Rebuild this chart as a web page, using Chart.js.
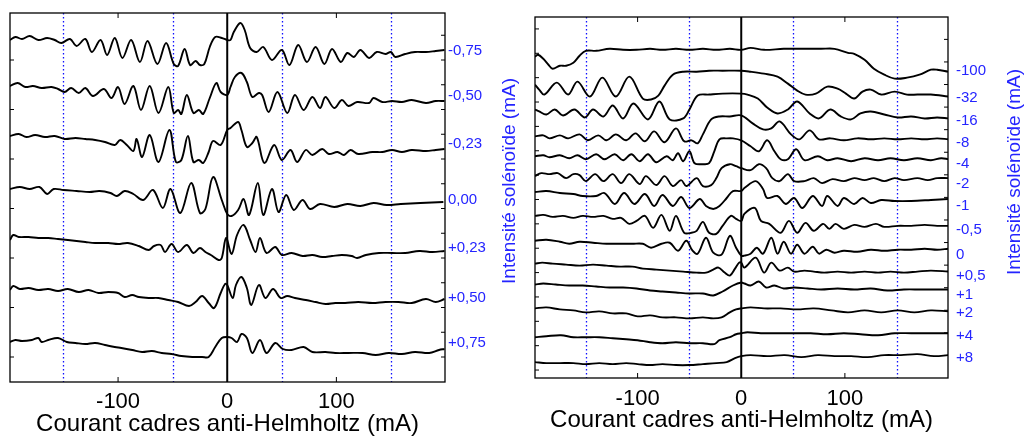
<!DOCTYPE html>
<html>
<head>
<meta charset="utf-8">
<script src="https://cdn.jsdelivr.net/npm/chart.js@4.4.0/dist/chart.umd.min.js"></script>
<style>
  body { margin: 0; background: #fff; }
  canvas { position: absolute; top: 0; }
  #gauche { left: 0; }
  #droite { left: 525px; }
</style>
</head>
<body>
<canvas id="gauche" width="525" height="438"></canvas>
<canvas id="droite" width="499" height="438"></canvas>
<script>
// Courbes : [courant cadres (mA), signal]
// le signal est donné par rapport à la ligne de base de chaque courbe
const xTitle = 'Courant cadres anti-Helmholtz (mA)';
const yTitle = 'Intensité solénoïde (mA)';
const xTicks = [-100, 0, 100];
const dotted = [-150, -50, 50, 150];

// --- panneau de gauche ---
const gaucheLabels = ['-0,75', '-0,50', '-0,23', '0,00', '+0,23', '+0,50', '+0,75'];
const gaucheBase = [332, 282, 232, 180, 131, 83, 33];
const gaucheNiveaux = [331, 286, 238, 182, 134, 84, 39];

const g075m = [[-199,10],[-194,13],[-188,11],[-181,14],[-173,10],[-165,12],[-158,10],[-152,7],[-144,11],[-138,4],[-130,11],[-124,-2],[-116,10],[-110,-5],[-103,12],[-96,-8],[-88,10],[-80,-12],[-73,9],[-64,-14],[-56,7],[-49,-14],[-45,-16],[-39,1],[-34,-15],[-29,-11],[-25,-15],[-21,-14],[-16,3],[-11,13],[-5,12],[0,10],[3,10],[6,18],[12,27],[16,20],[21,2],[27,-2],[33,3],[41,-10],[50,0],[57,-15],[65,5],[73,-12],[81,3],[89,-14],[96,1],[104,-12],[110,-3],[116,-7],[122,0],[130,-8],[137,-2],[145,-4],[150,-2],[154,-7],[163,-4],[172,-2],[182,-2],[191,-1],[199,0]];
const g050m = [[-199,14],[-192,17],[-185,13],[-178,14],[-170,12],[-161,13],[-155,11],[-149,8],[-143,12],[-136,7],[-130,12],[-123,4],[-113,11],[-106,2],[-100,13],[-94,-4],[-86,14],[-79,-10],[-71,14],[-63,-13],[-54,13],[-49,-13],[-45,-10],[-42,-14],[-37,5],[-31,-13],[-26,-10],[-22,-14],[-16,2],[-10,17],[-6,8],[0,5],[3,13],[7,23],[13,27],[18,18],[23,3],[29,7],[32,5],[38,-12],[46,8],[55,-13],[62,5],[70,-10],[78,3],[85,-8],[90,3],[98,-8],[105,0],[111,-6],[119,-2],[130,-3],[134,2],[142,-2],[151,-1],[160,-2],[169,0],[182,-3],[191,-1],[199,-1]];
const g023m = [[-199,14],[-191,16],[-184,13],[-176,15],[-167,13],[-158,14],[-149,11],[-139,12],[-130,11],[-121,10],[-112,8],[-103,5],[-98,10],[-92,5],[-86,-1],[-83,11],[-78,-7],[-71,15],[-63,-12],[-53,20],[-47,-12],[-42,-10],[-36,14],[-31,-12],[-26,-10],[-22,-13],[-17,-2],[-13,9],[-6,5],[0,20],[3,22],[10,28],[13,20],[18,3],[23,7],[27,13],[34,-13],[43,5],[50,-10],[58,0],[64,-12],[72,0],[78,-5],[87,1],[93,-4],[101,-2],[107,-5],[113,0],[120,-4],[133,-2],[142,-2],[151,0],[160,-2],[169,0],[182,-1],[191,0],[199,1]];
const g000 = [[-199,13],[-190,15],[-181,13],[-172,15],[-165,8],[-159,13],[-150,12],[-138,11],[-126,10],[-117,11],[-107,9],[-101,6],[-94,11],[-86,8],[-77,2],[-68,12],[-59,-6],[-52,13],[-43,-11],[-33,19],[-25,-11],[-20,-7],[-13,25],[-5,2],[0,-12],[4,-14],[10,-8],[15,3],[20,-13],[28,19],[33,-13],[41,13],[47,-10],[54,7],[61,-8],[69,2],[76,-7],[85,-2],[98,-5],[110,-2],[122,-4],[134,-1],[146,-3],[159,-2],[177,-1],[198,0]];
const g023p = [[-199,11],[-196,16],[-191,14],[-182,14],[-173,13],[-164,13],[-155,12],[-146,11],[-130,9],[-121,8],[-109,8],[-100,7],[-91,8],[-81,5],[-72,1],[-67,5],[-61,6],[-57,-1],[-51,7],[-45,-1],[-37,6],[-31,-2],[-25,3],[-20,-1],[-15,-4],[-8,-9],[-5,-7],[-1,13],[4,-3],[9,16],[15,26],[21,11],[26,-1],[30,13],[36,-2],[44,4],[50,-4],[59,-2],[69,-5],[78,-4],[87,-6],[96,-5],[105,-4],[114,-5],[119,-7],[127,-4],[139,-2],[151,-2],[163,-2],[176,0],[188,-1],[199,0]];
const g050p = [[-199,9],[-196,13],[-190,10],[-182,11],[-173,9],[-164,10],[-155,8],[-146,10],[-136,7],[-127,9],[-118,6],[-109,7],[-100,6],[-94,2],[-87,4],[-81,2],[-72,1],[-63,1],[-54,-1],[-45,-3],[-35,-7],[-29,-3],[-23,3],[-17,-4],[-12,-9],[-6,6],[-2,15],[0,14],[5,1],[8,14],[13,22],[18,11],[22,-6],[29,14],[35,1],[42,10],[49,1],[55,3],[62,1],[72,-1],[81,-3],[90,-5],[99,-4],[108,-4],[120,-3],[133,-4],[145,-3],[157,-3],[169,-4],[182,0],[191,-3],[199,0]];
const g075p = [[-199,7],[-194,9],[-188,8],[-179,9],[-173,11],[-170,7],[-164,9],[-155,11],[-147,7],[-139,6],[-130,5],[-121,6],[-112,4],[-103,2],[-97,1],[-87,-1],[-78,-3],[-69,-2],[-60,-4],[-51,-5],[-42,-7],[-32,-8],[-23,-8],[-17,-8],[-11,2],[-5,11],[0,12],[4,11],[9,7],[13,15],[18,11],[23,-4],[30,9],[36,-4],[44,6],[51,0],[59,-1],[70,2],[78,-3],[90,-3],[99,-4],[111,-4],[124,-4],[136,-6],[148,-4],[160,-5],[172,-3],[185,-4],[194,-1],[199,0]];
const gaucheCourbes = [g075m, g050m, g023m, g000, g023p, g050p, g075p];

// --- panneau de droite ---
const droiteLabels = ['-100', '-32', '-16', '-8', '-4', '-2', '-1', '-0,5', '0', '+0,5', '+1', '+2', '+4', '+8'];
const droiteBase = [308, 283, 261, 240, 220, 201, 180, 153, 130, 107, 89, 67, 45, 23];
const droiteNiveaux = [309, 282, 259, 236, 215, 195, 173, 149, 124, 103, 84, 65, 42, 20];

const d100m = [[-199,15],[-196,17],[-191,13],[-186,7],[-182,3],[-175,6],[-169,6],[-162,9],[-156,16],[-150,21],[-140,21],[-127,23],[-114,22],[-101,22],[-88,23],[-76,22],[-63,23],[-50,22],[-37,23],[-24,22],[-11,23],[0,22],[9,24],[22,22],[41,23],[61,23],[77,23],[90,23],[103,19],[109,18],[119,12],[128,3],[138,-3],[148,-7],[160,-6],[172,-3],[183,2],[189,2],[200,0]];
const d32m = [[-199,12],[-195,7],[-190,2],[-178,14],[-167,2],[-158,15],[-146,0],[-134,19],[-121,0],[-108,20],[-95,-2],[-87,-3],[-80,1],[-74,11],[-66,22],[-56,25],[-43,25],[-31,26],[-18,26],[0,26],[9,25],[22,23],[35,20],[45,13],[54,6],[62,2],[72,3],[83,10],[93,8],[101,3],[109,-2],[117,5],[125,7],[135,2],[148,5],[160,2],[170,2],[183,2],[200,0]];
const d16m = [[-199,9],[-195,7],[-188,4],[-180,9],[-172,3],[-161,9],[-151,1],[-143,9],[-133,2],[-124,13],[-114,0],[-104,15],[-90,-1],[-79,17],[-69,-1],[-56,0],[-50,9],[-42,23],[-31,24],[-18,25],[0,25],[6,24],[16,20],[25,11],[35,5],[45,9],[54,17],[66,5],[75,0],[86,9],[96,2],[106,-1],[115,5],[125,7],[138,4],[151,1],[164,2],[177,0],[189,1],[200,0]];
const d8m = [[-199,3],[-191,4],[-185,1],[-175,4],[-167,1],[-156,5],[-148,-1],[-138,4],[-130,-1],[-121,5],[-111,-1],[-102,6],[-93,-2],[-84,8],[-74,-3],[-63,11],[-55,-2],[-48,-1],[-42,-4],[-37,5],[-29,20],[-21,23],[-11,23],[0,24],[11,16],[21,10],[29,11],[37,18],[48,5],[56,0],[66,9],[75,0],[86,1],[99,-1],[112,1],[125,0],[138,1],[151,0],[164,1],[177,0],[189,1],[200,0]];
const d4m = [[-199,3],[-191,4],[-185,2],[-175,4],[-166,1],[-158,4],[-150,0],[-140,5],[-132,0],[-122,5],[-114,-1],[-106,5],[-98,-2],[-90,5],[-82,-3],[-72,3],[-66,-1],[-61,6],[-56,-2],[-50,8],[-45,-4],[-37,-5],[-31,-4],[-26,8],[-21,20],[-14,21],[-8,21],[0,19],[9,13],[17,8],[25,19],[32,8],[38,0],[45,0],[53,10],[61,-1],[74,3],[83,-1],[93,1],[106,-2],[119,1],[132,-1],[144,1],[157,-1],[170,1],[183,-1],[193,1],[200,0]];
const d2m = [[-199,2],[-193,5],[-185,4],[-177,5],[-169,0],[-162,4],[-156,3],[-150,-3],[-141,4],[-133,-3],[-124,4],[-116,-5],[-108,4],[-98,-6],[-92,2],[-82,-7],[-74,2],[-66,-8],[-58,-2],[-53,-8],[-43,0],[-37,-8],[-29,-7],[-24,0],[-19,10],[-11,14],[-5,12],[0,10],[9,8],[17,14],[24,10],[30,0],[37,-3],[45,4],[51,-3],[61,-3],[70,0],[78,-5],[88,-1],[99,-3],[109,0],[119,-2],[128,0],[138,-3],[148,0],[157,-2],[170,0],[180,-2],[189,0],[200,0]];
const d1m = [[-199,7],[-188,8],[-175,6],[-162,5],[-153,3],[-140,3],[-132,6],[-122,-5],[-113,6],[-103,-5],[-93,5],[-84,-7],[-76,4],[-66,-7],[-58,2],[-50,-9],[-40,0],[-34,-7],[-27,-10],[-21,-7],[-14,1],[-8,8],[0,8],[3,11],[14,18],[21,10],[25,1],[35,3],[43,-5],[51,1],[59,-9],[69,3],[78,-7],[83,3],[93,-7],[99,1],[109,-5],[117,1],[125,-4],[135,-1],[148,-2],[164,-2],[183,-1],[200,0]];
const d05m = [[-199,10],[-191,11],[-182,9],[-172,10],[-162,8],[-153,10],[-143,9],[-133,10],[-124,7],[-116,8],[-108,2],[-101,5],[-93,10],[-85,-2],[-77,11],[-69,-5],[-63,10],[-55,-7],[-48,-7],[-43,-5],[-37,4],[-31,-7],[-24,-8],[-18,0],[-10,10],[-5,7],[0,5],[3,12],[13,18],[19,5],[27,2],[38,-7],[46,5],[54,-7],[62,3],[70,-5],[79,2],[85,-3],[91,2],[99,-3],[109,1],[119,-1],[130,2],[138,-1],[151,0],[164,0],[177,1],[189,0],[200,0]];
const d0 = [[-199,8],[-188,9],[-175,7],[-166,5],[-156,7],[-143,6],[-130,5],[-117,5],[-105,5],[-95,5],[-87,1],[-77,5],[-69,6],[-61,-2],[-53,8],[-47,-2],[-42,-5],[-34,11],[-27,-4],[-19,-6],[-11,13],[-5,1],[0,-7],[3,-7],[9,-5],[15,1],[21,-5],[29,11],[35,-5],[41,7],[48,-5],[54,4],[61,-5],[69,2],[75,-5],[82,-1],[90,-4],[99,-2],[112,-3],[125,-1],[138,-2],[151,-1],[164,-1],[177,0],[189,-1],[200,0]];
const d05p = [[-199,8],[-192,9],[-182,8],[-169,7],[-156,6],[-143,7],[-130,6],[-117,5],[-105,5],[-95,3],[-82,2],[-69,1],[-56,0],[-43,-1],[-34,-1],[-27,2],[-22,4],[-16,-1],[-11,-4],[-6,3],[-2,9],[0,9],[3,4],[14,14],[22,-1],[29,9],[37,1],[45,4],[51,0],[61,1],[70,0],[80,-1],[93,0],[106,-1],[119,0],[132,-1],[144,0],[157,-1],[170,0],[183,1],[200,0]];
const d1p = [[-199,5],[-191,6],[-179,5],[-166,4],[-153,4],[-140,3],[-127,2],[-114,2],[-101,1],[-88,-1],[-76,-2],[-63,-3],[-50,-4],[-37,-4],[-27,-6],[-18,-2],[-8,4],[0,7],[3,6],[9,4],[17,8],[24,2],[32,4],[41,1],[51,2],[64,1],[77,0],[93,1],[109,0],[125,1],[141,-1],[157,0],[173,0],[189,0],[200,0]];
const d2p = [[-199,3],[-188,4],[-175,2],[-162,1],[-150,-1],[-137,0],[-124,-2],[-111,-2],[-100,-5],[-88,-4],[-76,-6],[-63,-6],[-50,-7],[-37,-6],[-27,-7],[-19,-6],[-11,-1],[-5,2],[0,3],[9,4],[22,3],[38,3],[54,2],[70,3],[87,1],[103,-1],[119,1],[135,-1],[151,1],[167,-1],[183,1],[200,0]];
const d4p = [[-199,-4],[-188,-3],[-174,-2],[-162,-4],[-150,-4],[-137,-4],[-124,-5],[-111,-6],[-100,-7],[-88,-9],[-76,-10],[-63,-9],[-50,-10],[-37,-10],[-26,-11],[-21,-7],[-11,-4],[-5,-1],[0,0],[6,1],[19,0],[35,0],[51,0],[67,0],[83,-1],[99,0],[115,-1],[132,-2],[148,0],[164,0],[183,0],[200,0]];
const d8p = [[-199,-7],[-188,-8],[-175,-8],[-162,-8],[-150,-9],[-137,-8],[-124,-9],[-111,-8],[-100,-9],[-88,-10],[-76,-9],[-63,-10],[-50,-10],[-37,-9],[-24,-8],[-14,-7],[-6,-3],[0,-1],[9,0],[25,-1],[42,0],[58,-2],[74,0],[90,-1],[106,-1],[122,-2],[138,0],[154,0],[170,1],[186,-1],[200,0]];
const droiteCourbes = [d100m, d32m, d16m, d8m, d4m, d2m, d1m, d05m, d0, d05p, d1p, d2p, d4p, d8p];

const police = '"Liberation Sans", Arial, sans-serif';
const bleu = '#2424ff';

// cadre, pointillés, ligne du zéro, petits traits intérieurs et titre vertical
const cadre = {
  id: 'cadre',
  beforeDatasetsDraw(chart) {
    const { ctx, chartArea: a, scales: { x } } = chart;
    ctx.save();
    ctx.strokeStyle = '#1010ff';
    ctx.lineWidth = 1.3;
    ctx.setLineDash([1.5, 2.5]);
    for (const v of dotted) {
      const px = Math.round(x.getPixelForValue(v)) + 0.5;
      ctx.beginPath(); ctx.moveTo(px, a.top); ctx.lineTo(px, a.bottom); ctx.stroke();
    }
    ctx.restore();
  },
  afterDatasetsDraw(chart, args, opts) {
    const { ctx, chartArea: a, scales: { x, y } } = chart;
    ctx.save();
    ctx.strokeStyle = '#000';
    const x0 = x.getPixelForValue(0);
    ctx.lineWidth = 2;
    ctx.beginPath(); ctx.moveTo(x0, a.top); ctx.lineTo(x0, a.bottom); ctx.stroke();
    ctx.lineWidth = 1.3;
    ctx.strokeRect(a.left, a.top, a.width, a.height);
    ctx.lineWidth = 1;
    ctx.beginPath();
    for (const v of [-100, 100]) {
      const px = x.getPixelForValue(v);
      ctx.moveTo(px, a.top); ctx.lineTo(px, a.top + 5);
      ctx.moveTo(px, a.bottom); ctx.lineTo(px, a.bottom - 5);
    }
    for (let v = opts.pasG0; v < y.max; v += opts.pasG) {
      const py = y.getPixelForValue(v);
      ctx.moveTo(a.left, py); ctx.lineTo(a.left + 4, py);
    }
    for (let v = opts.pasD0; v < y.max; v += opts.pasD) {
      const py = y.getPixelForValue(v);
      ctx.moveTo(a.right, py); ctx.lineTo(a.right - 4, py);
    }
    ctx.stroke();
    ctx.translate(opts.titreX, opts.titreY);
    ctx.rotate(-Math.PI / 2);
    ctx.fillStyle = bleu;
    ctx.font = '19px ' + police;
    ctx.textAlign = 'center';
    ctx.textBaseline = 'middle';
    ctx.fillText(yTitle, 0, 0);
    ctx.restore();
  }
};

function creerChart(id, courbes, base, niveaux, labels, cfg) {
  const datasets = courbes.map((c, i) => ({
    data: c.map(p => ({ x: p[0], y: p[1] + base[i] })),
    borderColor: '#000',
    borderWidth: 1.9,
    pointRadius: 0,
    tension: 0.35,
    fill: false
  }));
  return new Chart(document.getElementById(id), {
    type: 'line',
    data: { datasets },
    plugins: [cadre],
    options: {
      responsive: false,
      animation: false,
      layout: { padding: { left: 10, top: cfg.top, right: 0, bottom: 0 } },
      plugins: {
        legend: { display: false },
        tooltip: { enabled: false },
        cadre: cfg.cadre
      },
      scales: {
        x: {
          type: 'linear', min: -199, max: 199.5,
          grid: { display: false, drawTicks: false },
          border: { display: false },
          afterBuildTicks: s => { s.ticks = xTicks.map(v => ({ value: v })); },
          afterFit: s => { s.height = cfg.hauteurX; },
          ticks: {
            color: '#000', padding: cfg.padTicks, maxRotation: 0, autoSkip: false,
            font: { family: police, size: 22 },
            callback: v => String(v)
          },
          title: {
            display: true, text: xTitle, color: '#000',
            font: { family: police, size: 24, lineHeight: 1.1 },
            padding: { top: 0, bottom: cfg.padTitre }
          }
        },
        y: { display: false, min: 0, max: cfg.yMax },
        y2: {
          position: 'right', min: 0, max: cfg.yMax,
          grid: { display: false, drawTicks: false },
          border: { display: false },
          afterBuildTicks: s => { s.ticks = niveaux.map(v => ({ value: v })); },
          afterFit: s => { s.width = cfg.largeurD; },
          ticks: {
            color: bleu, padding: cfg.padD, autoSkip: false,
            font: { family: police, size: 15 },
            callback: (v, i) => labels[i]
          }
        }
      }
    }
  });
}

creerChart('gauche', gaucheCourbes, gaucheBase, gaucheNiveaux, gaucheLabels, {
  top: 13, hauteurX: 56, yMax: 369, largeurD: 80, padD: 3, padTicks: 7, padTitre: 0,
  cadre: { pasG0: 25, pasG: 49.5, pasD0: 25, pasD: 24.75, titreX: 510, titreY: 181 }
});
creerChart('droite', droiteCourbes, droiteBase, droiteNiveaux, droiteLabels, {
  top: 15, hauteurX: 60, yMax: 363, largeurD: 76, padD: 8, padTicks: 8, padTitre: 4,
  cadre: { pasG0: 8, pasG: 24.5, pasD0: 22.7, pasD: 22.7, titreX: 490, titreY: 172 }
});
</script>
</body>
</html>
